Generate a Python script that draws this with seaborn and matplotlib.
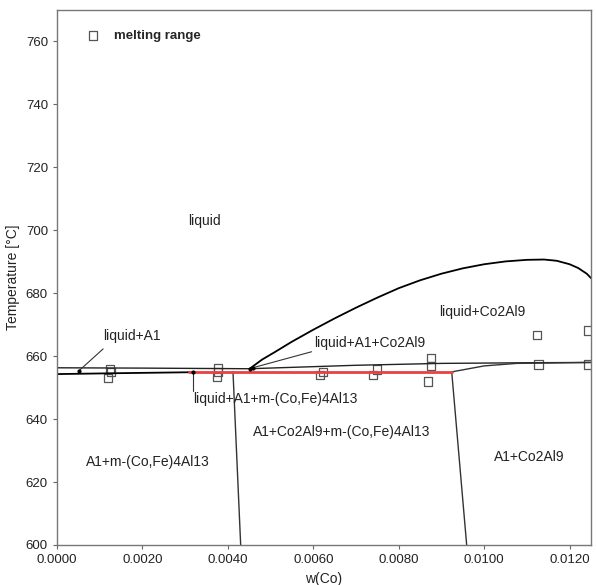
import numpy as np
import pandas as pd
import matplotlib
matplotlib.use("Agg")
import matplotlib.pyplot as plt
import seaborn as sns

# phase boundaries (w(Co), temperature in degC)
liq_top_x = [0.0, 0.0020, 0.0045, 0.0070, 0.0090, 0.0110, 0.0125]
liq_top_t = [656.3, 656.2, 656.0, 657.1, 657.7, 657.9, 658.0]

solidus_x = [0.0, 0.0015, 0.0032]
solidus_t = [654.3, 654.6, 654.9]

eutectic_x = [0.00310, 0.00924]
eutectic_t = [655.0, 655.0]

co2al9_low_x = [0.00924, 0.0100, 0.01076, 0.0125]
co2al9_low_t = [655.0, 656.9, 657.7, 658.0]

liquidus_x = [0.00451, 0.0048, 0.0051, 0.0055, 0.0060, 0.0065, 0.0070, 0.0075,
              0.0080, 0.0085, 0.0090, 0.0095, 0.0100, 0.0105, 0.0110, 0.0114,
              0.0117, 0.0120, 0.0122, 0.0124, 0.0125]
liquidus_t = [656.0, 658.9, 661.3, 664.6, 668.4, 672.0, 675.4, 678.6,
              681.6, 684.1, 686.2, 687.9, 689.2, 690.1, 690.6, 690.7,
              690.3, 689.2, 688.0, 686.2, 684.8]

left_vert_x = [0.00412, 0.00430]
left_vert_t = [655.0, 600.0]
right_vert_x = [0.00924, 0.00959]
right_vert_t = [655.0, 600.0]

# melting range measurements
melt_x = [0.00124, 0.00126, 0.00119, 0.00377, 0.00377, 0.00374, 0.00622, 0.00615,
          0.00749, 0.00739, 0.00875, 0.00875, 0.00868, 0.01123, 0.01127, 0.01244, 0.01244]
melt_t = [656.0, 655.0, 653.1, 656.3, 655.0, 653.4, 655.0, 654.1,
          655.8, 654.1, 659.5, 656.8, 651.9, 666.8, 657.3, 668.1, 657.3]

# region labels
labels = ["liquid", "liquid+Co2Al9", "A1+m-(Co,Fe)4Al13",
          "A1+Co2Al9+m-(Co,Fe)4Al13", "A1+Co2Al9"]
label_x = [0.00346, 0.00996, 0.00213, 0.00667, 0.01106]
label_t = [702.8, 674.1, 626.4, 636.0, 628.0]

# labels with pointer lines: text pos, pointed point
ptr_labels = ["liquid+A1", "liquid+A1+Co2Al9", "liquid+A1+m-(Co,Fe)4Al13"]
ptr_text_x = [0.00108, 0.00601, 0.00318]
ptr_text_t = [666.5, 664.3, 646.4]
ptr_line_x0 = [0.00108, 0.00596, 0.00318]
ptr_line_t0 = [662.3, 661.4, 649.0]
ptr_line_x1 = [0.00051, 0.00458, 0.00318]
ptr_line_t1 = [655.3, 656.3, 654.9]

sns.set_style("white")
plt.rcParams['font.family'] = ['Liberation Sans', 'DejaVu Sans']

fig = plt.figure(figsize=(5.96, 5.85), dpi=100)
ax = fig.add_axes([0.0956, 0.0684, 0.896, 0.9146])

lw = 1.0
sns.lineplot(x=liq_top_x, y=liq_top_t, sort=False, color="#222222", lw=lw, ax=ax)
sns.lineplot(x=solidus_x, y=solidus_t, sort=False, color="black", lw=1.3, ax=ax)
sns.lineplot(x=co2al9_low_x, y=co2al9_low_t, sort=False, color="#333333", lw=lw, ax=ax)
sns.lineplot(x=liquidus_x, y=liquidus_t, sort=False, color="black", lw=1.3, ax=ax)
sns.lineplot(x=left_vert_x, y=left_vert_t, sort=False, color="#333333", lw=lw, ax=ax)
sns.lineplot(x=right_vert_x, y=right_vert_t, sort=False, color="#333333", lw=lw, ax=ax)
sns.lineplot(x=eutectic_x, y=eutectic_t, sort=False, color="#e8423f", lw=2.0, ax=ax)

# pointer lines for the narrow regions
for i in range(len(ptr_labels)):
    ax.plot([ptr_line_x0[i], ptr_line_x1[i]], [ptr_line_t0[i], ptr_line_t1[i]],
            color="#333333", lw=0.8)
    ax.plot(ptr_line_x1[i], ptr_line_t1[i], "o", color="black", ms=2)
ax.plot(0.00451, 656.0, "o", color="black", ms=2)

sns.scatterplot(x=melt_x, y=melt_t, marker="s", s=36, facecolor="none",
                edgecolor="#555555", linewidth=0.9, label="melting range", ax=ax)

fs = 10
for lab, x, t in zip(labels, label_x, label_t):
    ax.text(x, t, lab, ha="center", va="center", fontsize=fs, color="#222222")
for i in range(len(ptr_labels)):
    ax.text(ptr_text_x[i], ptr_text_t[i], ptr_labels[i], ha="left", va="center",
            fontsize=fs, color="#222222")

ax.set_xlim(0, 0.0125)
ax.set_ylim(600, 770)
ax.set_xticks(np.arange(0, 0.0121, 0.002))
ax.set_xticklabels([f"{v:.4f}" for v in np.arange(0, 0.0121, 0.002)])
ax.set_yticks(np.arange(600, 761, 20))
ax.tick_params(axis="both", labelsize=9.5, length=3, color="#666666", direction="out",
               bottom=True, left=True, labelcolor="#222222")
ax.set_xlabel("w(Co)", fontsize=10, color="#222222", labelpad=4)
ax.set_ylabel("Temperature [°C]", fontsize=10, color="#222222", labelpad=4)
for sp in ax.spines.values():
    sp.set_color("#777777")
    sp.set_linewidth(1.0)

ax.legend(loc="upper left", bbox_to_anchor=(0.02, 0.985), frameon=False,
          prop={"weight": "bold", "size": 9.5}, handletextpad=0.6)

fig.savefig("out.png", dpi=100)
